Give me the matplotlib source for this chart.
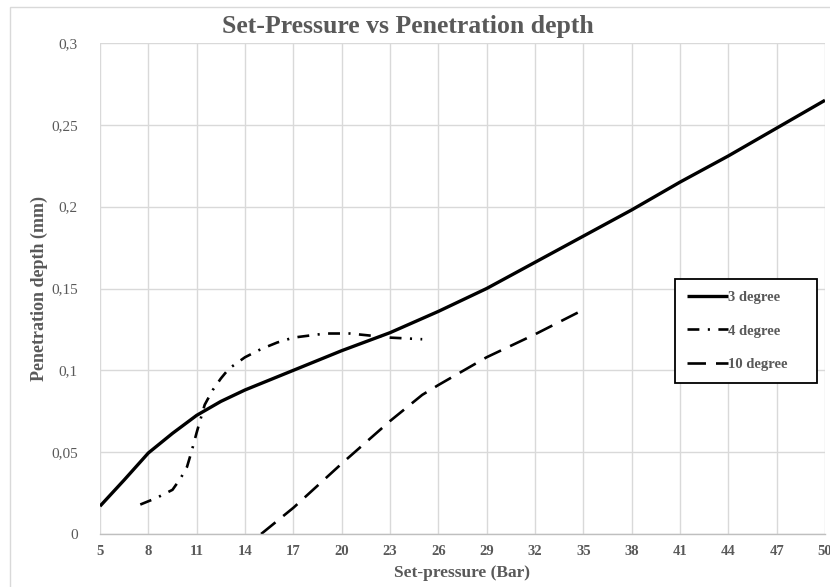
import matplotlib
matplotlib.use("Agg")
import matplotlib.pyplot as plt
from matplotlib.patches import Rectangle

# ---- data ----
x_3deg = [5, 6.5, 8, 9.5, 11, 12.5, 14, 17, 20, 23, 26, 29, 32, 35, 38, 41, 44, 47, 50]
y_3deg = [0.017, 0.033, 0.0495, 0.0615, 0.0725, 0.081, 0.088, 0.100, 0.112, 0.123, 0.136, 0.150, 0.166, 0.182, 0.198, 0.215, 0.231, 0.248, 0.265]

x_4deg = [7.5, 8.5, 9.5, 10.0, 10.4, 10.7, 11.0, 11.5, 12.0, 12.5, 13.0, 14.0, 15.0, 16.0, 17.0, 19.0, 20.5, 22.0, 23.0, 25.0]
y_4deg = [0.018, 0.022, 0.027, 0.034, 0.041, 0.051, 0.062, 0.079, 0.088, 0.095, 0.101, 0.108, 0.113, 0.117, 0.120, 0.1225, 0.1225, 0.121, 0.120, 0.119]

x_10deg = [15, 17, 20, 23, 25, 26, 29, 32, 35]
y_10deg = [0.0, 0.016, 0.043, 0.069, 0.085, 0.091, 0.108, 0.122, 0.137]

labels = ["3 degree", "4 degree", "10 degree"]
x_ticks = list(range(5, 51, 3))
y_ticks = [0, 0.05, 0.1, 0.15, 0.2, 0.25, 0.3]
y_ticklabels = ["0", "0,05", "0,1", "0,15", "0,2", "0,25", "0,3"]

TXT = "#595959"
GRID = "#d9d9d9"
SERIF = "Liberation Serif"

fig = plt.figure(figsize=(8.3, 5.87), dpi=100)
W, H = 830, 587
L, R, T, B = 100, 825, 43, 534
ax = fig.add_axes([L / W, 1 - B / H, (R - L) / W, (B - T) / H])

ax.plot(x_3deg, y_3deg, color="black", lw=2.4, solid_capstyle="butt", label=labels[0])
ax.plot(x_4deg, y_4deg, color="black", lw=1.9, dashes=(4.5, 3.2, 0.8, 3.2), label=labels[1])
ax.plot(x_10deg, y_10deg, color="black", lw=1.9, dashes=(7, 3.8), label=labels[2])

ax.set_xlim(5, 50)
ax.set_ylim(0, 0.3)
ax.set_xticks(x_ticks)
ax.set_yticks(y_ticks)
ax.set_yticklabels(y_ticklabels)
ax.grid(True, color=GRID, lw=1.0)
ax.set_axisbelow(True)
for s in ["top", "right", "left"]:
    ax.spines[s].set_visible(False)
ax.spines["bottom"].set_color("#bfbfbf")
ax.spines["bottom"].set_linewidth(1.0)
ax.tick_params(length=0, pad=8)

for t in ax.get_xticklabels():
    t.set_fontfamily(SERIF)
    t.set_fontweight("bold")
    t.set_fontsize(10.5)
    t.set_color(TXT)
for t in ax.get_yticklabels():
    t.set_fontfamily(SERIF)
    t.set_fontsize(11)
    t.set_color(TXT)
ax.tick_params(axis="y", pad=16)

ax.set_xlabel("Set-pressure (Bar)", fontfamily=SERIF, fontweight="bold", fontsize=12.5, color=TXT, labelpad=5)
ax.set_ylabel("Penetration depth (mm)", fontfamily=SERIF, fontweight="bold", fontsize=13, color=TXT, labelpad=2)

fig.text(408 / W, 1 - 27 / H, "Set-Pressure vs Penetration depth",
         ha="center", va="center", fontfamily=SERIF, fontweight="bold", fontsize=18.5, color=TXT)

# legend box in pixel coords: x 675..817, y 279..379
lx0, lx1, ly0, ly1 = 675, 817, 279, 379
bbox = ((lx0 - L) / (R - L), 1 - (ly1 - T) / (B - T), (lx1 - lx0) / (R - L), (ly1 - ly0) / (B - T))
leg = ax.legend(loc="upper left", bbox_to_anchor=bbox, mode="expand",
                frameon=True, fancybox=False, edgecolor="black", framealpha=1,
                prop={"family": SERIF, "weight": "bold", "size": 10.5},
                handlelength=2.8, handletextpad=0.0, labelspacing=1.4, borderpad=0.8, borderaxespad=0)
leg.get_frame().set_linewidth(1.3)
for t in leg.get_texts():
    t.set_color(TXT)

# outer chart border
fig.patches.append(Rectangle((10 / W, -0.01), 1.0, 1 - 7 / H + 0.01, transform=fig.transFigure,
                             fill=False, edgecolor=GRID, lw=1.0))

fig.savefig("out.png", dpi=100)
